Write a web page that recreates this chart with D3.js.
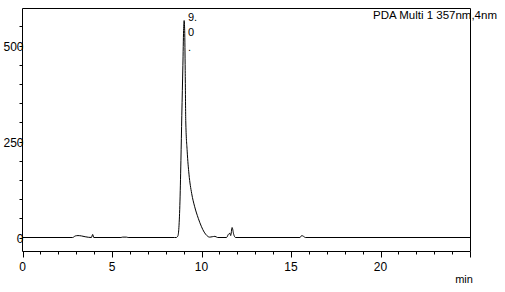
<!DOCTYPE html>
<html><head><meta charset="utf-8">
<script src="https://cdn.jsdelivr.net/npm/d3@7"></script>
<style>body{margin:0;background:#fff}svg{display:block;font-family:"Liberation Sans",Arial,sans-serif}</style>
</head><body><div id="c"></div>
<script>
// retention time (min) and absorbance (mAU)
const times = [0, 2.8, 2.95, 3.1, 3.3, 3.5, 3.85, 3.92, 3.98, 5.5, 5.6, 5.8, 5.9, 8.5, 8.59, 8.68, 8.73, 8.79, 8.85, 8.90, 8.96, 9.00, 9.03, 9.06, 9.09, 9.12, 9.20, 9.30, 9.45, 9.62, 9.82, 10.0, 10.15, 10.30, 10.45, 10.6, 10.75, 10.9, 11.4, 11.5, 11.58, 11.63, 11.71, 11.8, 11.9, 15.5, 15.6, 15.7, 15.8, 25];
const values = [0, 0, 4, 5, 4, 2, 0, 8, 0, 0, 1, 1, 0, 0, 0, 4, 21, 83, 200, 318, 448, 539, 565, 539, 435, 305, 225, 165, 115, 80, 50, 28, 14, 5, 1, 2, 3, 0, 0, 8, 11, 5, 26, 8, 0, 0, 5, 3, 0, 0];
const yTickLabels = [0, 250, 500];
const xTickLabels = [0, 5, 10, 15, 20];
const peakLabel = ["9.", "0", "."];
const title = "PDA Multi 1 357nm,4nm";
const xUnit = "min";

const W = 505, H = 292;
const svg = d3.select("#c").append("svg").attr("width", W).attr("height", H);
const x = d3.scaleLinear().domain([0, 25]).range([22.5, 470]);
const y = d3.scaleLinear().domain([0, 500]).range([237.5, 45.5]);
const L = 22.5, R = 470.5, T = 8.5, B = 251.5;

// frame
svg.append("path").attr("d", `M${L},${B}V${T}H${R}V${B}`).attr("fill", "none").attr("stroke", "#000");
svg.append("line").attr("x1", L).attr("x2", R).attr("y1", B).attr("y2", B).attr("stroke", "#000");

// y ticks
const yMinor = d3.range(-50, 600, 50).filter(v => y(v) >= T && y(v) <= B);
svg.selectAll(".yt").data(yMinor).join("line")
  .attr("x1", L - 3).attr("x2", L).attr("y1", d => Math.round(y(d)) + 0.5).attr("y2", d => Math.round(y(d)) + 0.5).attr("stroke", "#000");
svg.selectAll(".yl").data(yTickLabels).join("text")
  .attr("x", L + 1).attr("y", d => y(d) + 5.5).attr("text-anchor", "end").attr("font-size", 12).text(d => d);

// x ticks
const xMinor = d3.range(0, 26, 1);
svg.selectAll(".xt").data(xMinor).join("line")
  .attr("x1", d => Math.round(x(d)) + 0.5).attr("x2", d => Math.round(x(d)) + 0.5)
  .attr("y1", B).attr("y2", d => d % 5 === 0 ? B + 6 : B + 3).attr("stroke", "#000");
svg.selectAll(".xl").data(xTickLabels).join("text")
  .attr("x", d => x(d)).attr("y", 270.5).attr("text-anchor", "middle").attr("font-size", 12).text(d => d);
svg.append("text").attr("x", 464).attr("y", 283).attr("text-anchor", "middle").attr("font-size", 11).text(xUnit);

// trace
const pts = times.map((t, i) => [t, values[i]]);
svg.append("path").datum(pts)
  .attr("d", d3.line().x(d => x(d[0])).y(d => y(d[1])).curve(d3.curveMonotoneX))
  .attr("fill", "none").attr("stroke", "#000").attr("stroke-width", 1);

// peak label
svg.selectAll(".pl").data(peakLabel).join("text")
  .attr("x", 188).attr("y", (d, i) => 21 + i * 15).attr("font-size", 11).text(d => d);

// title
svg.append("text").attr("x", 497).attr("y", 19).attr("text-anchor", "end").attr("font-size", 11.5).text(title);
</script></body></html>
